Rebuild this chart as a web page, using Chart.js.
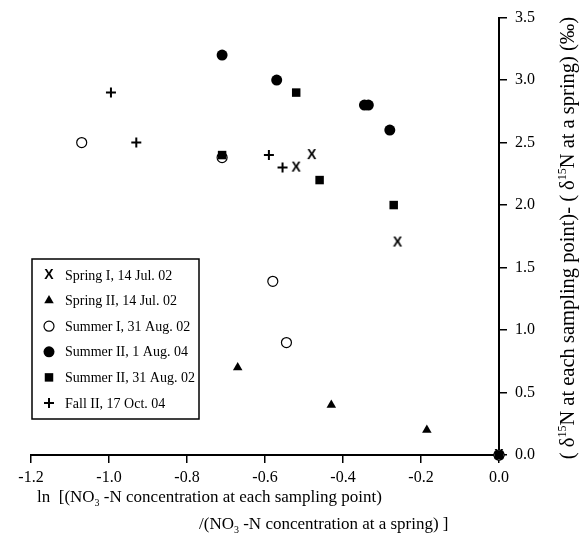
<!DOCTYPE html>
<html>
<head>
<meta charset="utf-8">
<script src="https://cdn.jsdelivr.net/npm/chart.js@4"></script>
<style>
html, body { margin: 0; padding: 0; background: #fff; }
</style>
</head>
<body>
<canvas id="graficoIsotopos" width="586" height="550"></canvas>
<script>
// ln(NO3-N ratio) vs. delta15N difference, one pair of arrays per campaign
var springI_x = [-0.48, -0.52, -0.26, 0.0];
var springI_y = [2.4, 2.3, 1.7, 0.0];

var springII_x = [-0.67, -0.43, -0.185, 0.0];
var springII_y = [0.7, 0.4, 0.2, 0.0];

var summerI_x = [-1.07, -0.71, -0.58, -0.545, 0.0];
var summerI_y = [2.5, 2.38, 1.39, 0.9, 0.0];

var summerII04_x = [-0.71, -0.57, -0.345, -0.335, -0.28, 0.0];
var summerII04_y = [3.2, 3.0, 2.8, 2.8, 2.6, 0.0];

var summerII02_x = [-0.71, -0.52, -0.46, -0.27, 0.0];
var summerII02_y = [2.4, 2.9, 2.2, 2.0, 0.0];

var fallII_x = [-0.995, -0.93, -0.59, -0.555];
var fallII_y = [2.9, 2.5, 2.4, 2.3];

var serieNomes = [
    'Spring I, 14 Jul. 02',
    'Spring II, 14 Jul. 02',
    'Summer I, 31 Aug. 02',
    'Summer II, 1 Aug. 04',
    'Summer II, 31 Aug. 02',
    'Fall II, 17 Oct. 04'
];

var xTicks = [-1.2, -1.0, -0.8, -0.6, -0.4, -0.2, 0.0];
var yTicks = [0.0, 0.5, 1.0, 1.5, 2.0, 2.5, 3.0, 3.5];

var FONTE = '"Liberation Serif", "Times New Roman", serif';

function pares(xs, ys) {
    return xs.map(function (x, i) { return { x: x, y: ys[i] }; });
}

// bold "X" glyph used as marker for Spring I
function marcaX() {
    var c = document.createElement('canvas');
    c.width = 14; c.height = 16;
    var g = c.getContext('2d');
    g.font = 'bold 14px "Liberation Sans Narrow", "Liberation Sans", sans-serif';
    g.textAlign = 'center';
    g.textBaseline = 'middle';
    g.fillStyle = '#000';
    g.fillText('X', 7, 8.5);
    return c;
}

var estilos = [
    { pointStyle: marcaX(), radius: 6, borderWidth: 0, bg: '#000' },
    { pointStyle: 'triangle', radius: 5.5, borderWidth: 0, bg: '#000' },
    { pointStyle: 'circle', radius: 5, borderWidth: 1.2, bg: '#fff' },
    { pointStyle: 'circle', radius: 5.5, borderWidth: 0, bg: '#000' },
    { pointStyle: 'rect', radius: 6, borderWidth: 0, bg: '#000' },
    { pointStyle: 'cross', radius: 5, borderWidth: 2, bg: '#000' }
];

var dadosSeries = [
    pares(springI_x, springI_y),
    pares(springII_x, springII_y),
    pares(summerI_x, summerI_y),
    pares(summerII04_x, summerII04_y),
    pares(summerII02_x, summerII02_y),
    pares(fallII_x, fallII_y)
];

var datasets = dadosSeries.map(function (d, i) {
    var e = estilos[i];
    return {
        label: serieNomes[i],
        data: d,
        showLine: false,
        clip: false,
        order: i === 4 ? 0 : 1,
        pointStyle: e.pointStyle,
        pointRadius: e.radius,
        pointBorderWidth: e.borderWidth,
        pointBackgroundColor: e.bg,
        pointBorderColor: '#000'
    };
});

// text with sub/superscript pieces; returns total width
function textoRico(ctx, partes, x, y, tam, medir) {
    var w = 0;
    var pequeno = Math.round(tam * 0.6);
    partes.forEach(function (p) {
        var t = p.sub || p.sup ? pequeno : tam;
        ctx.font = t + 'px ' + FONTE;
        var dy = p.sub ? tam * 0.25 : (p.sup ? -tam * 0.38 : 0);
        if (!medir) ctx.fillText(p.t, x + w, y + dy);
        w += ctx.measureText(p.t).width;
    });
    return w;
}

var titulos = {
    id: 'titulos',
    afterDraw: function (chart) {
        var ctx = chart.ctx;
        ctx.save();
        ctx.fillStyle = '#000';
        ctx.textBaseline = 'alphabetic';
        ctx.textAlign = 'left';
        textoRico(ctx, [
            { t: 'ln  [(NO' }, { t: '3', sub: true },
            { t: ' -N concentration at each sampling point)' }
        ], 37, 502, 17);
        textoRico(ctx, [
            { t: '/(NO' }, { t: '3', sub: true },
            { t: ' -N concentration at a spring) ]' }
        ], 199, 529, 17);

        var partesY = [
            { t: '( \u03b4' }, { t: '15', sup: true },
            { t: 'N at each sampling point)- ( \u03b4' }, { t: '15', sup: true },
            { t: 'N at a spring) (\u2030)' }
        ];
        var larg = textoRico(ctx, partesY, 0, 0, 20.5, true);
        ctx.translate(574, 238);
        ctx.rotate(-Math.PI / 2);
        textoRico(ctx, partesY, -larg / 2, 0, 20.5);
        ctx.restore();
    }
};

var legenda = {
    id: 'legendaCaixa',
    afterDatasetsDraw: function (chart) {
        var ctx = chart.ctx;
        ctx.save();
        ctx.fillStyle = '#fff';
        ctx.fillRect(32, 259, 167, 160);
        ctx.strokeStyle = '#000';
        ctx.lineWidth = 1.5;
        ctx.strokeRect(32, 259, 167, 160);
        ctx.font = '14px ' + FONTE;
        ctx.textBaseline = 'middle';
        serieNomes.forEach(function (nome, i) {
            var y = 275 + i * 25.6;
            var e = estilos[i];
            ctx.fillStyle = e.bg;
            ctx.strokeStyle = '#000';
            ctx.lineWidth = e.borderWidth;
            Chart.helpers.drawPoint(ctx, {
                pointStyle: e.pointStyle,
                radius: e.radius,
                borderWidth: e.borderWidth,
                rotation: 0
            }, 49, y);
            ctx.fillStyle = '#000';
            ctx.fillText(nome, 65, y + 1);
        });
        ctx.restore();
    }
};

var ctx = document.getElementById('graficoIsotopos').getContext('2d');
var grafico = new Chart(ctx, {
    type: 'scatter',
    data: { datasets: datasets },
    options: {
        responsive: false,
        animation: false,
        events: [],
        layout: { padding: { left: 31, top: 14, right: 0, bottom: 0 } },
        plugins: {
            legend: { display: false },
            tooltip: { enabled: false }
        },
        scales: {
            x: {
                type: 'linear',
                min: -1.2,
                max: 0.0,
                afterBuildTicks: function (scale) {
                    scale.ticks = xTicks.map(function (v) { return { value: v }; });
                },
                afterFit: function (scale) { scale.height = 95; },
                ticks: {
                    color: '#000',
                    font: { family: FONTE, size: 16 },
                    padding: 5,
                    maxRotation: 0,
                    callback: function (v) { return v.toFixed(1); }
                },
                grid: {
                    drawOnChartArea: false,
                    color: '#000',
                    lineWidth: 1.5,
                    tickLength: 8
                },
                border: { color: '#000', width: 2 }
            },
            y: {
                type: 'linear',
                position: 'right',
                min: 0,
                max: 3.5,
                afterBuildTicks: function (scale) {
                    scale.ticks = yTicks.map(function (v) { return { value: v }; });
                },
                afterFit: function (scale) { scale.width = 87; },
                ticks: {
                    color: '#000',
                    font: { family: FONTE, size: 16 },
                    padding: 8,
                    callback: function (v) { return v.toFixed(1); }
                },
                grid: {
                    drawOnChartArea: false,
                    color: '#000',
                    lineWidth: 1.5,
                    tickLength: 8
                },
                border: { color: '#000', width: 2 }
            }
        }
    },
    plugins: [legenda, titulos]
});
</script>
</body>
</html>
